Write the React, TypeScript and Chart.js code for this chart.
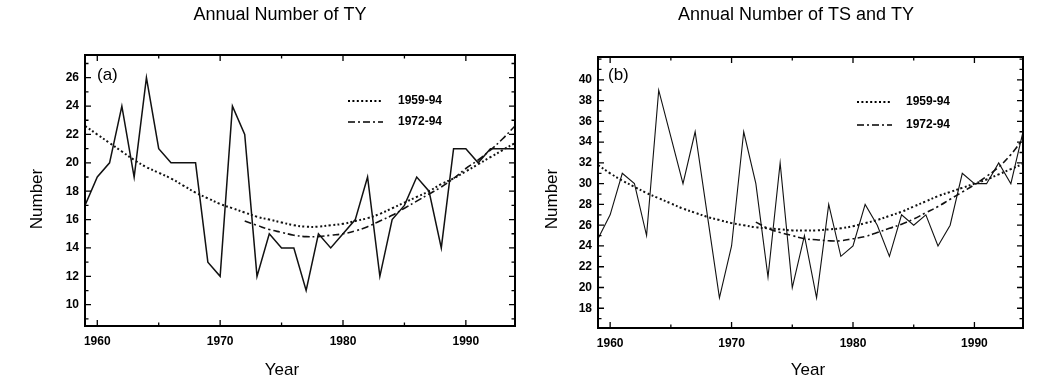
import React, { useEffect, useRef } from 'react';
import { Chart, registerables } from 'chart.js';

Chart.register(...registerables);

// ---------- data ----------
const years = [
  1959, 1960, 1961, 1962, 1963, 1964, 1965, 1966, 1967, 1968, 1969, 1970,
  1971, 1972, 1973, 1974, 1975, 1976, 1977, 1978, 1979, 1980, 1981, 1982,
  1983, 1984, 1985, 1986, 1987, 1988, 1989, 1990, 1991, 1992, 1993, 1994,
];
const trendYears7294 = [
  1972, 1973, 1974, 1975, 1976, 1977, 1978, 1979, 1980, 1981, 1982, 1983,
  1984, 1985, 1986, 1987, 1988, 1989, 1990, 1991, 1992, 1993, 1994,
];

// (a) typhoons
const tyAnnual = [
  17, 19, 20, 24, 19, 26, 21, 20, 20, 20, 13, 12,
  24, 22, 12, 15, 14, 14, 11, 15, 14, 15, 16, 19,
  12, 16, 17, 19, 18, 14, 21, 21, 20, 21, 21, 21,
];
const tyTrend5994 = [
  22.6, 22.0, 21.4, 20.8, 20.2, 19.7, 19.3, 18.9, 18.4, 17.9, 17.5, 17.1,
  16.8, 16.5, 16.2, 16.0, 15.8, 15.6, 15.5, 15.5, 15.6, 15.7, 15.9, 16.1,
  16.4, 16.8, 17.2, 17.6, 18.0, 18.5, 18.9, 19.4, 19.9, 20.4, 20.9, 21.4,
];
const tyTrend7294 = [
  15.9, 15.6, 15.3, 15.1, 14.9, 14.8, 14.8, 14.9, 15.0, 15.2, 15.5, 15.9,
  16.3, 16.8, 17.3, 17.8, 18.3, 18.9, 19.6, 20.2, 20.9, 21.7, 22.6,
];

// (b) tropical storms + typhoons
const tstyAnnual = [
  24.7, 27, 31, 30, 25, 39, 34.5, 30, 35, 27, 19, 24,
  35, 30, 21, 32, 20, 25, 19, 28, 23, 24, 28, 26,
  23, 27, 26, 27, 24, 26, 31, 30, 30, 32, 30, 35,
];
const tstyTrend5994 = [
  31.8, 31.0, 30.3, 29.7, 29.1, 28.6, 28.1, 27.6, 27.2, 26.8, 26.5, 26.2,
  26.0, 25.8, 25.7, 25.6, 25.5, 25.5, 25.5, 25.6, 25.7, 25.9, 26.2, 26.5,
  26.9, 27.3, 27.8, 28.3, 28.8, 29.2, 29.6, 30.0, 30.4, 30.9, 31.4, 31.9,
];
const tstyTrend7294 = [
  26.3, 25.7, 25.3, 25.0, 24.7, 24.6, 24.5, 24.5, 24.7, 24.9, 25.3, 25.7,
  26.1, 26.6, 27.2, 27.8, 28.5, 29.2, 29.9, 30.7, 31.6, 32.8, 34.3,
];

// ticks / labels
const xTickLabels = [1960, 1970, 1980, 1990];
const xMinorTicks = [1960, 1965, 1970, 1975, 1980, 1985, 1990];
const tyYTicks = [10, 12, 14, 16, 18, 20, 22, 24, 26];
const tyYMinor = [9, 10, 11, 12, 13, 14, 15, 16, 17, 18, 19, 20, 21, 22, 23, 24, 25, 26, 27];
const tstyYTicks = [18, 20, 22, 24, 26, 28, 30, 32, 34, 36, 38, 40];
const tstyYMinor = [
  17, 18, 19, 20, 21, 22, 23, 24, 25, 26, 27, 28, 29, 30, 31, 32, 33, 34, 35,
  36, 37, 38, 39, 40, 41, 42,
];
const legendLabels = ['1959-94', '1972-94'];
const titles = ['Annual Number of TY', 'Annual Number of TS and TY'];
const panelLetters = ['(a)', '(b)'];
const yAxisTitle = 'Number';
const xAxisTitle = 'Year';

const FONT = '"Liberation Sans", Arial, Helvetica, sans-serif';
const DOT_DASH = [2, 2.4];
const DASH_DOT = [7, 3, 2, 3];

type Panel = {
  annual: number[];
  trendA: number[];
  trendB: number[];
  yMin: number;
  yMax: number;
  yTicks: number[];
  yMinor: number[];
  title: string;
  letter: string;
  pad: { left: number; right: number; top: number; bottom: number };
  yW: number;
  xH: number;
  lineW: number;
  titleX: number;
  titleY: number;
  numberX: number;
  numberY: number;
  yearX: number;
  yearY: number;
  letterX: number;
  letterY: number;
  legX: number;
  legY: number[];
  legTextX: number;
};

function decor(p: Panel) {
  return {
    id: 'decor',
    afterDraw(chart: any) {
      const { ctx, chartArea: a, scales } = chart;
      const xs = scales.x;
      const ys = scales.y;
      ctx.save();
      ctx.strokeStyle = '#000';
      ctx.fillStyle = '#000';
      // frame
      ctx.lineWidth = 2;
      ctx.setLineDash([]);
      ctx.strokeRect(a.left, a.top, a.right - a.left, a.bottom - a.top);
      // inner ticks
      ctx.lineWidth = 1.3;
      ctx.beginPath();
      for (const v of p.yMinor) {
        const py = ys.getPixelForValue(v);
        if (py < a.top + 1 || py > a.bottom - 1) continue;
        const len = p.yTicks.includes(v) ? 6 : 3.5;
        ctx.moveTo(a.left, py);
        ctx.lineTo(a.left + len, py);
        ctx.moveTo(a.right, py);
        ctx.lineTo(a.right - len, py);
      }
      for (const v of xMinorTicks) {
        const px = xs.getPixelForValue(v);
        const len = xTickLabels.includes(v) ? 6 : 3.5;
        ctx.moveTo(px, a.bottom);
        ctx.lineTo(px, a.bottom - len);
        ctx.moveTo(px, a.top);
        ctx.lineTo(px, a.top + len);
      }
      ctx.stroke();

      // title
      ctx.font = `18px ${FONT}`;
      ctx.textAlign = 'center';
      ctx.textBaseline = 'middle';
      ctx.fillText(p.title, p.titleX, p.titleY);
      // x axis title
      ctx.font = `17px ${FONT}`;
      ctx.fillText(xAxisTitle, p.yearX, p.yearY);
      // panel letter
      ctx.textAlign = 'left';
      ctx.fillText(p.letter, p.letterX, p.letterY);
      // y axis title
      ctx.save();
      ctx.translate(p.numberX, p.numberY);
      ctx.rotate(-Math.PI / 2);
      ctx.textAlign = 'center';
      ctx.fillText(yAxisTitle, 0, 0);
      ctx.restore();

      // legend
      const dashes = [DOT_DASH, DASH_DOT];
      const widths = [2, 1.6];
      ctx.font = `bold 12px ${FONT}`;
      ctx.textAlign = 'left';
      for (let i = 0; i < 2; i++) {
        ctx.beginPath();
        ctx.setLineDash(dashes[i]);
        ctx.lineWidth = widths[i];
        ctx.moveTo(p.legX, p.legY[i]);
        ctx.lineTo(p.legX + 35, p.legY[i]);
        ctx.stroke();
        ctx.setLineDash([]);
        ctx.fillText(legendLabels[i], p.legTextX, p.legY[i]);
      }
      ctx.restore();
    },
  };
}

function makeConfig(p: Panel): any {
  const tickFont = { family: FONT, size: 12, weight: 'bold' as const };
  return {
    type: 'line',
    data: {
      datasets: [
        {
          label: 'annual',
          data: years.map((yr, i) => ({ x: yr, y: p.annual[i] })),
          borderColor: '#111',
          borderWidth: p.lineW,
          pointRadius: 0,
          tension: 0,
          fill: false,
        },
        {
          label: legendLabels[0],
          data: years.map((yr, i) => ({ x: yr, y: p.trendA[i] })),
          borderColor: '#111',
          borderWidth: 2,
          borderDash: DOT_DASH,
          pointRadius: 0,
          tension: 0.4,
          fill: false,
        },
        {
          label: legendLabels[1],
          data: trendYears7294.map((yr, i) => ({ x: yr, y: p.trendB[i] })),
          borderColor: '#111',
          borderWidth: 1.6,
          borderDash: DASH_DOT,
          pointRadius: 0,
          tension: 0.4,
          fill: false,
        },
      ],
    },
    options: {
      responsive: false,
      animation: false,
      events: [],
      layout: { padding: p.pad },
      plugins: {
        legend: { display: false },
        title: { display: false },
        tooltip: { enabled: false },
      },
      scales: {
        x: {
          type: 'linear',
          min: 1959,
          max: 1994,
          afterBuildTicks: (s: any) => {
            s.ticks = xTickLabels.map((v) => ({ value: v }));
          },
          afterFit: (s: any) => {
            s.height = p.xH;
          },
          grid: { display: false, drawTicks: false },
          border: { display: false },
          ticks: {
            font: tickFont,
            color: '#000',
            padding: 8,
            maxRotation: 0,
            autoSkip: false,
            callback: (v: any) => String(v),
          },
        },
        y: {
          type: 'linear',
          min: p.yMin,
          max: p.yMax,
          afterBuildTicks: (s: any) => {
            s.ticks = p.yTicks.map((v) => ({ value: v }));
          },
          afterFit: (s: any) => {
            s.width = p.yW;
          },
          grid: { display: false, drawTicks: false },
          border: { display: false },
          ticks: {
            font: tickFont,
            color: '#000',
            padding: 6,
            autoSkip: false,
            callback: (v: any) => String(v),
          },
        },
      },
    },
    plugins: [decor(p)],
  };
}

const leftPanel: Panel = {
  annual: tyAnnual,
  trendA: tyTrend5994,
  trendB: tyTrend7294,
  yMin: 8.5,
  yMax: 27.6,
  yTicks: tyYTicks,
  yMinor: tyYMinor,
  title: titles[0],
  letter: panelLetters[0],
  pad: { left: 0, right: 15, top: 55, bottom: 0 },
  yW: 85,
  xH: 65,
  lineW: 1.5,
  titleX: 280,
  titleY: 15,
  numberX: 37,
  numberY: 199,
  yearX: 282,
  yearY: 370,
  letterX: 97,
  letterY: 75,
  legX: 348,
  legY: [101, 122],
  legTextX: 398,
};

const rightPanel: Panel = {
  annual: tstyAnnual,
  trendA: tstyTrend5994,
  trendB: tstyTrend7294,
  yMin: 16.1,
  yMax: 42.2,
  yTicks: tstyYTicks,
  yMinor: tstyYMinor,
  title: titles[1],
  letter: panelLetters[1],
  pad: { left: 0, right: 37, top: 57, bottom: 0 },
  yW: 68,
  xH: 63,
  lineW: 1.1,
  titleX: 266,
  titleY: 15,
  numberX: 22,
  numberY: 199,
  yearX: 278,
  yearY: 370,
  letterX: 78,
  letterY: 75,
  legX: 327,
  legY: [102, 125],
  legTextX: 376,
};

function PanelChart({ panel, left }: { panel: Panel; left: number }) {
  const ref = useRef<HTMLCanvasElement | null>(null);
  useEffect(() => {
    if (!ref.current) return;
    const chart = new Chart(ref.current, makeConfig(panel));
    return () => chart.destroy();
  }, [panel]);
  return (
    <canvas
      ref={ref}
      width={530}
      height={391}
      style={{ position: 'absolute', left, top: 0, width: 530, height: 391 }}
    />
  );
}

export default function App() {
  return (
    <div
      style={{
        position: 'absolute',
        left: 0,
        top: 0,
        width: 1060,
        height: 391,
        background: '#fff',
        overflow: 'hidden',
      }}
    >
      <PanelChart panel={leftPanel} left={0} />
      <PanelChart panel={rightPanel} left={530} />
    </div>
  );
}
